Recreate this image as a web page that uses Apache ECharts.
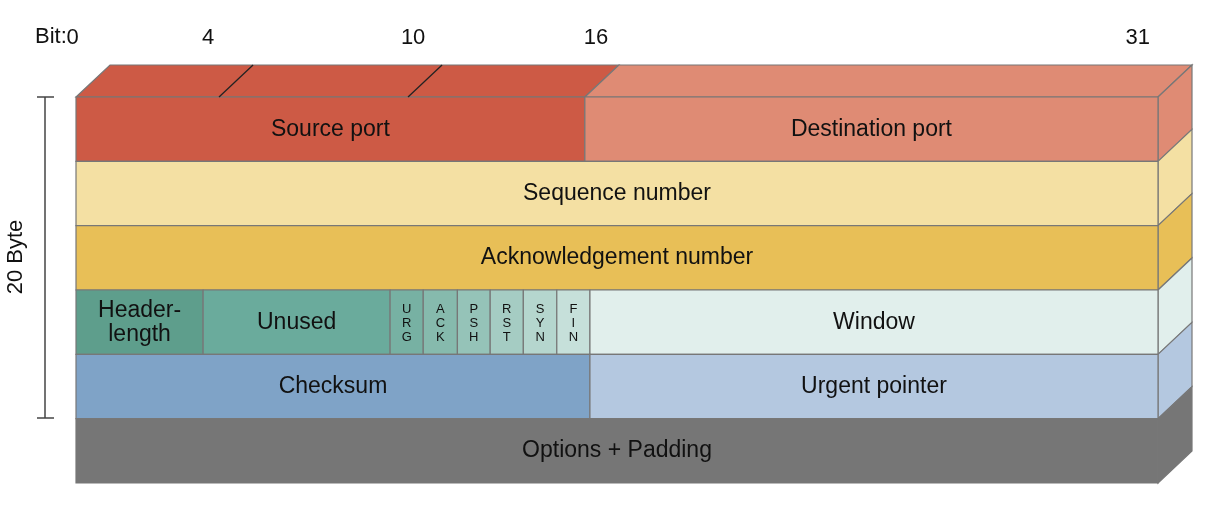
<!DOCTYPE html>
<html><head><meta charset="utf-8">
<script src="https://cdn.jsdelivr.net/npm/echarts@6/dist/echarts.min.js"></script>
<style>html,body{margin:0;background:#fff}#c{width:1232px;height:511px}</style>
</head><body><div id="c"></div>
<script>
// header fields: row, start, end (in bit-ish units), label, colour
var fieldRows   = [0, 0, 1, 2, 3, 3, 3, 3, 3, 3, 3, 3, 3, 4, 4, 5];
var fieldStart  = [0, 15.05, 0, 0, 0, 3.76, 9.29, 10.27, 11.28, 12.25, 13.23, 14.22, 15.2, 0, 15.2, 0];
var fieldEnd    = [15.05, 32, 32, 32, 3.76, 9.29, 10.27, 11.28, 12.25, 13.23, 14.22, 15.2, 32, 15.2, 32, 32];
var fieldLabels = ['Source port', 'Destination port', 'Sequence number', 'Acknowledgement number',
  'Header-\nlength', 'Unused', 'U\nR\nG', 'A\nC\nK', 'P\nS\nH', 'R\nS\nT', 'S\nY\nN', 'F\nI\nN',
  'Window', 'Checksum', 'Urgent pointer', 'Options + Padding'];
var fieldColors = ['#cd5a45', '#df8b74', '#f4e0a3', '#e8bf57', '#5e9e8c', '#6aab9c', '#77b1a3',
  '#86baad', '#95c3b8', '#a5ccc3', '#b5d6ce', '#c6e0da', '#e1efec', '#7fa3c7', '#b4c8e0', '#767676'];
// bit ruler labels and where they sit
var bitLabels = ['0', '4', '10', '16', '31'];
var bitPos    = [-0.1, 3.91, 9.97, 15.38, 31.4];
var dividerPos = [4.23, 9.82]; // lines across the top face

var DX = 34, DY = -32;
var chart = echarts.init(document.getElementById('c'));

function renderField(params, api) {
  var i = params.dataIndex;
  var r = api.value(0), x0 = api.value(1), x1 = api.value(2);
  var p0 = api.coord([x0, r]), p1 = api.coord([x1, r + 1]);
  var st = {fill: fieldColors[i], stroke: '#777', lineWidth: 1.2};
  var kids = [];
  if (r === 0) {
    kids.push({type: 'polygon', shape: {points: [[p0[0], p0[1]], [p0[0] + DX, p0[1] + DY], [p1[0] + DX, p0[1] + DY], [p1[0], p0[1]]]}, style: st});
  }
  if (x1 === 32) {
    kids.push({type: 'polygon', shape: {points: [[p1[0], p0[1]], [p1[0] + DX, p0[1] + DY], [p1[0] + DX, p1[1] + DY], [p1[0], p1[1]]]}, style: st});
  }
  var small = fieldLabels[i].length === 5 && fieldLabels[i].indexOf('\n') === 1;
  kids.push({type: 'rect', shape: {x: p0[0], y: p0[1], width: p1[0] - p0[0], height: p1[1] - p0[1]}, style: st});
  kids.push({type: 'text', x: (p0[0] + p1[0]) / 2, y: (p0[1] + p1[1]) / 2 + (small ? 1 : 0),
    style: {text: fieldLabels[i], fill: '#111', align: 'center', verticalAlign: 'middle',
      font: small ? '13px "Liberation Sans"' : '23px "Liberation Sans"', lineHeight: small ? 14 : 24}});
  return {type: 'group', children: kids};
}

chart.setOption({
  animation: false,
  grid: {left: 76, right: 74, top: 97, bottom: 28},
  xAxis: {type: 'value', min: 0, max: 32, show: false},
  yAxis: {type: 'value', min: 0, max: 6, inverse: true, show: false},
  series: [{
    type: 'custom', renderItem: renderField,
    data: fieldRows.map(function (r, i) { return [r, fieldStart[i], fieldEnd[i]]; })
  }, {
    type: 'custom',
    renderItem: function (params, api) {
      var p = api.coord([api.value(0), 0]);
      return {type: 'line', shape: {x1: p[0], y1: p[1], x2: p[0] + DX, y2: p[1] + DY}, style: {stroke: '#222', lineWidth: 1.3}};
    },
    data: dividerPos.map(function (v) { return [v]; })
  }, {
    type: 'custom',
    renderItem: function (params, api) {
      var p = api.coord([api.value(0), 0]);
      return {type: 'text', x: p[0], y: 38, style: {text: bitLabels[params.dataIndex], fill: '#111',
        align: 'center', verticalAlign: 'middle', font: '22px "Liberation Sans"'}};
    },
    data: bitPos.map(function (v) { return [v]; })
  }],
  graphic: [
    {type: 'text', left: 35, top: 26, style: {text: 'Bit:', fill: '#111', font: '22px "Liberation Sans"'}},
    {type: 'line', shape: {x1: 45, y1: 97, x2: 45, y2: 418}, style: {stroke: '#444', lineWidth: 1.5}},
    {type: 'line', shape: {x1: 37, y1: 97, x2: 54, y2: 97}, style: {stroke: '#444', lineWidth: 1.5}},
    {type: 'line', shape: {x1: 37, y1: 418, x2: 54, y2: 418}, style: {stroke: '#444', lineWidth: 1.5}},
    {type: 'text', x: 16, y: 257, rotation: Math.PI / 2,
      style: {text: '20 Byte', fill: '#111', align: 'center', verticalAlign: 'middle', font: '22px "Liberation Sans"'}}
  ]
});
</script></body></html>
